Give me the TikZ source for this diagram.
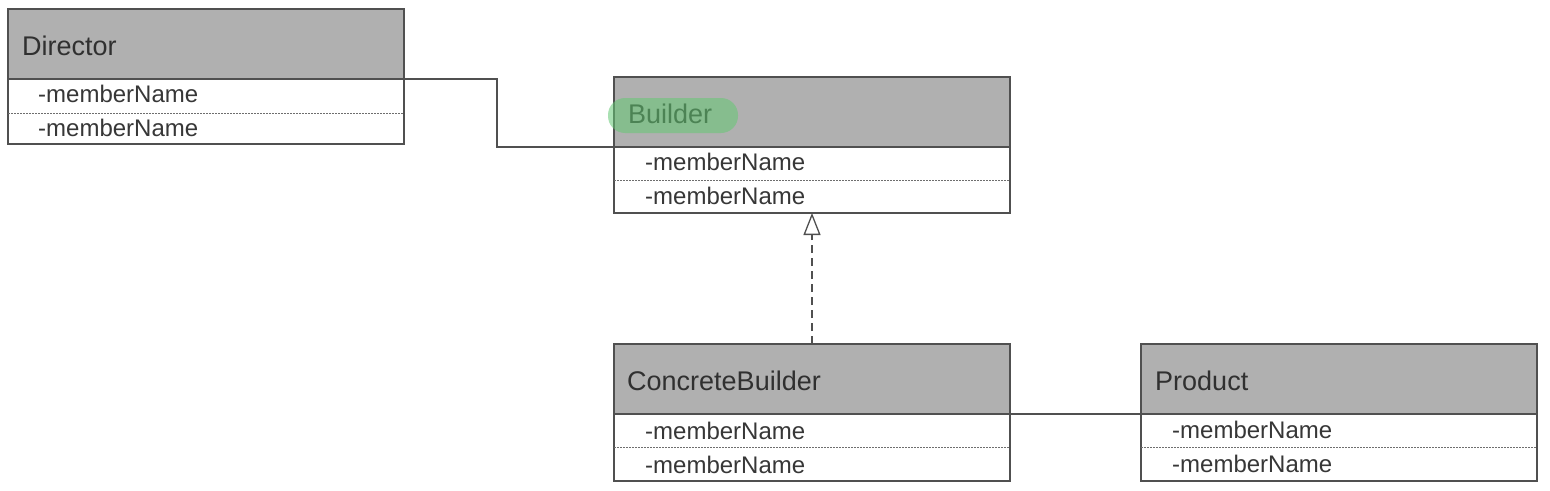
\documentclass[tikz,border=0pt]{standalone}
\usepackage{fontspec}
\setmainfont{Liberation Sans}
\usetikzlibrary{arrows.meta}
\definecolor{hdrfill}{RGB}{176,176,176}
\definecolor{linec}{RGB}{80,80,80}
\definecolor{titlec}{RGB}{48,48,48}
\definecolor{memc}{RGB}{55,55,55}
\definecolor{sepc}{RGB}{110,110,110}
\definecolor{hlc}{RGB}{100,200,115}
\tikzset{
  hdr/.style={draw=linec, line width=1.3pt, fill=hdrfill, minimum width=396pt, minimum height=70pt, anchor=north west, inner sep=0pt, outer sep=0pt},
  classbody/.style={draw=linec, line width=1.3pt, fill=white, minimum width=396pt, minimum height=#1, anchor=north west, inner sep=0pt, outer sep=0pt},
  title/.style={font=\fontsize{27}{30}\selectfont, text=titlec, anchor=base west, inner sep=0pt},
  member/.style={font=\fontsize{24}{28}\selectfont, text=memc, anchor=base west, inner sep=0pt},
  sepline/.style={draw=sepc, line width=1pt, dash pattern=on 1.5pt off 1.5pt},
  conn/.style={draw=linec, line width=1.3pt},
  realize/.style={draw=linec, line width=1.3pt, dash pattern=on 8pt off 5pt, -{Triangle[open, length=22pt, width=17pt, line width=1.3pt]}},
  hilite/.style={fill=hlc, fill opacity=0.55, rounded corners=17pt}
}
\begin{document}
\begin{tikzpicture}[x=1pt,y=-1pt]
\useasboundingbox[fill=white] (0,0) rectangle (1550,490);
% Director
\node[hdr] (dirH) at (8,9) {};
\node[classbody=65pt] (dirB) at (8,79) {};
\draw[sepline] (dirB.west |- 0,113) coordinate (dsL) -- (dirB.east |- 0,113) coordinate (dsR);
\node[title] (dirT) at (22,55) {Director};
\node[member] (dirM1) at (38,102) {-memberName};
\node[member] (dirM2) at (38,136) {-memberName};
% Builder
\node[hdr] (bldH) at (614,77) {};
\node[classbody=66pt] (bldB) at (614,147) {};
\draw[sepline] (bldB.west |- 0,180) -- (bldB.east |- 0,180);
\node[title] (bldT) at (628,123) {Builder};
\path[hilite] (608,98) rectangle (738,133);
\node[member] (bldM1) at (645,170) {-memberName};
\node[member] (bldM2) at (645,204) {-memberName};
% ConcreteBuilder
\node[hdr] (cbH) at (614,344) {};
\node[classbody=67pt] (cbB) at (614,414) {};
\draw[sepline] (cbB.west |- 0,447) -- (cbB.east |- 0,447);
\node[title] (cbT) at (627,390) {ConcreteBuilder};
\node[member] (cbM1) at (645,439) {-memberName};
\node[member] (cbM2) at (645,473) {-memberName};
% Product
\node[hdr] (prH) at (1141,344) {};
\node[classbody=67pt] (prB) at (1141,414) {};
\draw[sepline] (prB.west |- 0,447) -- (prB.east |- 0,447);
\node[title] (prT) at (1155,390) {Product};
\node[member] (prM1) at (1172,438) {-memberName};
\node[member] (prM2) at (1172,472) {-memberName};
% connectors
\draw[conn] (dirH.south east) -- ++(93,0) |- (bldH.south west);
\draw[realize] (cbH.north) -- (bldB.south);
\draw[conn] (cbH.south east) -- (prH.south west);
\end{tikzpicture}
\end{document}
